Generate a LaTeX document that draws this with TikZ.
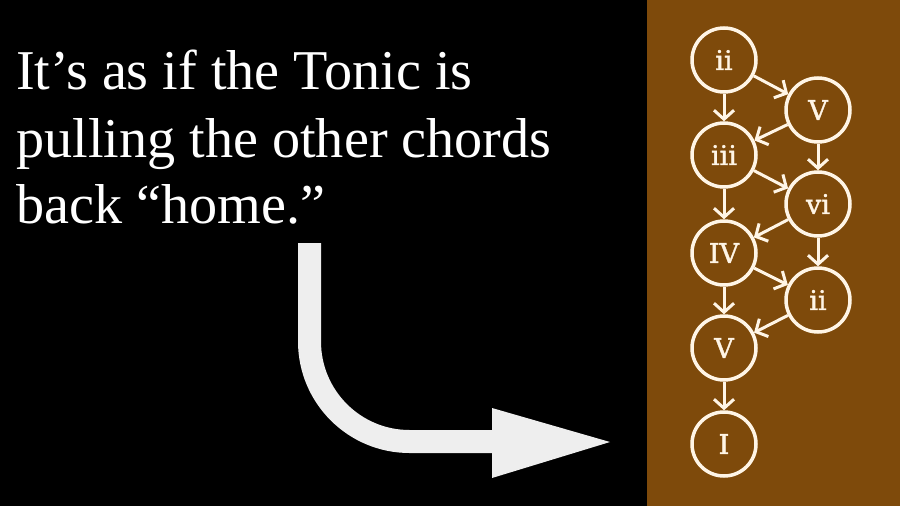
\documentclass[tikz,border=0pt]{standalone}
\usepackage{fontspec}
\setmainfont{Liberation Serif}
\newfontfamily\labelfont{DejaVu Serif}[FakeBold=1.3]
\usetikzlibrary{arrows.meta}
\definecolor{panelbrown}{HTML}{7E4A0B}
\definecolor{cream}{HTML}{FFF5E6}
\definecolor{arrowgray}{HTML}{EEEEEE}
\tikzset{
  chord/.style={circle, draw=cream, line width=3.5pt, minimum size=64pt, inner sep=0pt,
    text=cream, font=\labelfont\fontsize{27}{27}\selectfont},
  edge/.style={draw=cream, line width=3pt, -{Straight Barb[length=9pt,width=20pt,line width=3pt]}},
  bigtext/.style={anchor=base west, inner sep=0pt, text=white, font=\fontsize{56.2}{67}\selectfont}
}
\begin{document}
\begin{tikzpicture}[x=1pt,y=-1pt]
\fill[black] (0,0) rectangle (900,506);
\fill[panelbrown] (647,0) rectangle (900,506);
\useasboundingbox (0,0) rectangle (900,506);

\node[bigtext] (t1) at (16,89) {It’s as if the Tonic is};
\node[bigtext] (t2) at (16,157) {pulling the other chords};
\node[bigtext] (t3) at (16,223) {back “home.”};

% big curved arrow
\coordinate (as) at (309.5,243);
\coordinate (ae) at (493,441.5);
\draw[arrowgray, line width=23pt, rounded corners=100pt] (as) |- (ae);
\fill[arrowgray] (492,408) coordinate (h1) -- (610,442) coordinate (h2) -- (492,478) coordinate (h3) -- cycle;

% chord graph
\node[chord] (ii1) at (724,60) {ii};
\node[chord] (V1) at (818,110) {V};
\node[chord] (iii) at (724,155) {iii};
\node[chord] (vi) at (818,204) {vi};
\node[chord] (IV) at (724,253) {IV};
\node[chord] (ii2) at (818,300) {ii};
\node[chord] (V2) at (724,348) {V};
\node[chord] (I) at (724,444) {I};

\draw[edge] (ii1) -- (iii);
\draw[edge] (ii1) -- (V1);
\draw[edge] (V1) -- (iii);
\draw[edge] (V1) -- (vi);
\draw[edge] (iii) -- (vi);
\draw[edge] (iii) -- (IV);
\draw[edge] (vi) -- (IV);
\draw[edge] (vi) -- (ii2);
\draw[edge] (IV) -- (ii2);
\draw[edge] (IV) -- (V2);
\draw[edge] (ii2) -- (V2);
\draw[edge] (V2) -- (I);
\end{tikzpicture}
\end{document}
